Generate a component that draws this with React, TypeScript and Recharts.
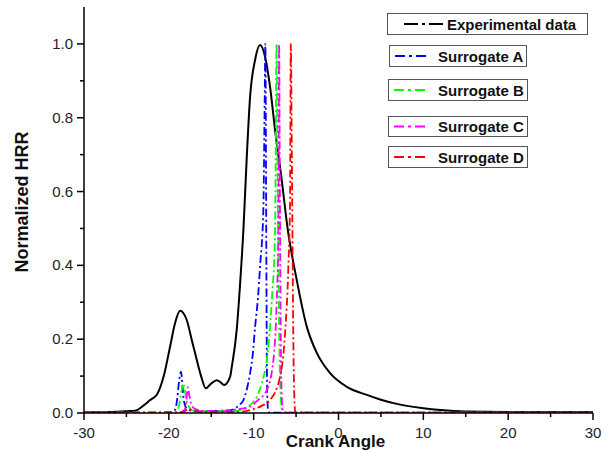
import React from 'react';
import { LineChart, Line, XAxis, YAxis } from 'recharts';

// ---- data ----
const expX = [-30, -27, -25, -24, -23, -22.2, -21.4, -20.6, -19.86, -19.27, -18.68, -17.89, -17.3, -16.71, -16.2, -15.65, -15.0, -14.35, -13.9, -13.49, -12.78, -12.58, -12.0, -11.6, -11.21, -10.8, -10.42, -9.83, -9.25, -8.66, -8.07, -7.48, -6.69, -6.03, -4.92, -3.74, -2.56, -0.99, 0.98, 3.34, 5, 7, 10, 12, 15, 20, 25, 30];
const expY = [0.002, 0.003, 0.005, 0.006, 0.02, 0.035, 0.05, 0.1, 0.179, 0.243, 0.277, 0.252, 0.198, 0.144, 0.1, 0.067, 0.08, 0.089, 0.083, 0.076, 0.098, 0.125, 0.225, 0.35, 0.496, 0.7, 0.857, 0.957, 0.997, 0.966, 0.884, 0.767, 0.631, 0.505, 0.36, 0.234, 0.163, 0.108, 0.071, 0.049, 0.036, 0.024, 0.013, 0.008, 0.004, 0.003, 0.003, 0.003];

const aX = [-30, -22, -20, -19.6, -19.27, -19.0, -18.8, -18.56, -18.4, -18.2, -17.9, -17.5, -17, -16, -15, -14, -13, -12.39, -11.8, -11.21, -10.8, -10.42, -10.1, -9.83, -9.5, -9.25, -8.86, -8.7, -8.62, -8.56, -8.5, -8.44, -8.35, -8.25, -8, -5, 0, 10, 20, 30];
const aY = [0.001, 0.001, 0.002, 0.003, 0.008, 0.04, 0.085, 0.112, 0.075, 0.03, 0.012, 0.007, 0.005, 0.004, 0.005, 0.006, 0.007, 0.01, 0.02, 0.035, 0.065, 0.108, 0.16, 0.234, 0.31, 0.396, 0.55, 0.85, 1.0, 0.75, 0.4, 0.12, 0.02, 0.003, 0.001, 0.001, 0.001, 0.001, 0.001, 0.001];

const bX = [-30, -20, -19.2, -18.8, -18.5, -18.29, -18.1, -17.8, -17.4, -17, -16, -14, -12, -11.6, -10.5, -9.63, -9.0, -8.45, -7.86, -7.48, -7.3, -7.2, -7.08, -6.95, -6.8, -6.6, -6.4, 0, 10, 20, 30];
const bY = [0.001, 0.001, 0.003, 0.02, 0.06, 0.08, 0.06, 0.025, 0.01, 0.006, 0.004, 0.005, 0.006, 0.008, 0.02, 0.044, 0.085, 0.144, 0.306, 0.487, 1.0, 0.7, 0.4, 0.15, 0.04, 0.005, 0.001, 0.001, 0.001, 0.001, 0.001];

const cX = [-30, -19, -18.5, -18.1, -17.9, -17.75, -17.6, -17.3, -16.8, -16, -14, -12, -10.42, -9.5, -8.45, -7.67, -7.28, -7.09, -7.0, -6.93, -6.86, -6.78, -6.68, -6.55, -6.4, 0, 10, 20, 30];
const cY = [0.001, 0.001, 0.003, 0.01, 0.04, 0.07, 0.05, 0.02, 0.01, 0.006, 0.005, 0.01, 0.017, 0.035, 0.062, 0.144, 0.306, 0.487, 1.0, 0.7, 0.4, 0.15, 0.04, 0.005, 0.001, 0.001, 0.001, 0.001, 0.001];

const dX = [-30, -19, -18.2, -17.7, -17.2, -16, -12, -10.42, -9.0, -8.07, -6.89, -6.3, -5.91, -5.71, -5.62, -5.5, -5.4, -5.3, -5.2, -5.1, -4.9, 0, 10, 20, 30];
const dY = [0.001, 0.001, 0.003, 0.012, 0.006, 0.003, 0.003, 0.008, 0.02, 0.035, 0.098, 0.216, 0.396, 0.577, 1.0, 0.7, 0.4, 0.15, 0.04, 0.004, 0.001, 0.001, 0.001, 0.001, 0.001];

const xTicks = [-30, -25, -20, -15, -10, -5, 0, 5, 10, 15, 20, 25, 30];
const yTicks = [0, 0.1, 0.2, 0.3, 0.4, 0.5, 0.6, 0.7, 0.8, 0.9, 1.0];

const seriesNames = ['Experimental data', 'Surrogate A', 'Surrogate B', 'Surrogate C', 'Surrogate D'];
const seriesColors = ['#000000', '#0000ff', '#00ff00', '#ff00ff', '#ff0000'];

const zip = (xs: number[], ys: number[]) => xs.map((x, i) => ({ x, y: ys[i] }));
const seriesData = [zip(expX, expY), zip(aX, aY), zip(bX, bY), zip(cX, cY), zip(dX, dY)];

const FONT = '"Liberation Sans", Arial, sans-serif';

const XTick = (props: any) => {
  const { x, y, payload } = props;
  const v = payload.value;
  const major = v % 10 === 0;
  return (
    <g>
      <line x1={x} x2={x} y1={y} y2={y + (major ? 7 : 4)} stroke="#000" strokeWidth={1.5} />
      {major && (
        <text x={x} y={y + 25} textAnchor="middle" fontSize={15} fontFamily={FONT} fill="#222">
          {String(v)}
        </text>
      )}
    </g>
  );
};

const YTick = (props: any) => {
  const { x, y, payload } = props;
  const v = payload.value;
  const major = Math.round(v * 10) % 2 === 0;
  return (
    <g>
      <line x1={x} x2={x - (major ? 7 : 4)} y1={y} y2={y} stroke="#000" strokeWidth={1.5} />
      {major && (
        <text x={x - 11} y={y + 5} textAnchor="end" fontSize={15} fontFamily={FONT} fill="#222">
          {v.toFixed(1)}
        </text>
      )}
    </g>
  );
};

const YLabel = (props: any) => {
  const { viewBox } = props;
  const cx = viewBox.x + 22;
  const cy = viewBox.y + viewBox.height / 2 - 8;
  return (
    <text
      x={cx}
      y={cy}
      transform={`rotate(-90 ${cx} ${cy})`}
      textAnchor="middle"
      dominantBaseline="central"
      fontSize={18}
      fontWeight="bold"
      fontFamily={FONT}
      fill="#111"
    >
      Normalized HRR
    </text>
  );
};

const XLabel = (props: any) => {
  const { viewBox } = props;
  const cx = viewBox.x + viewBox.width / 2 - 3;
  return (
    <text x={cx} y={viewBox.y + 34} textAnchor="middle" fontSize={17} fontWeight="bold" fontFamily={FONT} fill="#111">
      Crank Angle
    </text>
  );
};

const legendBoxes = [
  { left: 387, top: 13, width: 201, height: 22, lx1: 16, lx2: 56, tx: 59, dash: '14 4 3 4' },
  { left: 389, top: 45, width: 138, height: 22, lx1: 5, lx2: 39, tx: 48, dash: '10 4 3 4' },
  { left: 388, top: 79, width: 140, height: 22, lx1: 5, lx2: 39, tx: 49, dash: '10 4 3 4' },
  { left: 388, top: 116, width: 140, height: 21, lx1: 5, lx2: 39, tx: 49, dash: '10 4 3 4' },
  { left: 388, top: 146, width: 140, height: 22, lx1: 5, lx2: 39, tx: 49, dash: '10 4 3 4' },
];

export default function App() {
  return (
    <div style={{ position: 'absolute', left: 0, top: 0, width: 605, height: 451, background: '#fff' }}>
      <LineChart width={605} height={451} margin={{ top: 7, right: 12, bottom: 0, left: 0 }}>
        <XAxis
          dataKey="x"
          type="number"
          domain={[-30, 30]}
          ticks={xTicks}
          interval={0}
          height={38}
          tickSize={0}
          tickMargin={0}
          tickLine={false}
          tick={<XTick />}
          axisLine={{ stroke: '#000', strokeWidth: 1.5 }}
          allowDataOverflow
          label={<XLabel />}
        />
        <XAxis
          xAxisId="top"
          orientation="top"
          type="number"
          domain={[-30, 30]}
          height={0}
          tick={false}
          tickLine={false}
          axisLine={{ stroke: '#000', strokeWidth: 1.5 }}
        />
        <YAxis
          type="number"
          domain={[0, 1.1]}
          ticks={yTicks}
          interval={0}
          width={84}
          tickSize={0}
          tickMargin={0}
          tickLine={false}
          tick={<YTick />}
          axisLine={{ stroke: '#000', strokeWidth: 1.5 }}
          allowDataOverflow
          label={<YLabel />}
        />
        <YAxis
          yAxisId="right"
          orientation="right"
          type="number"
          domain={[0, 1.1]}
          width={0}
          tick={false}
          tickLine={false}
          axisLine={{ stroke: '#000', strokeWidth: 1.5 }}
        />
        {seriesData.map((d, i) => (
          <Line
            key={seriesNames[i]}
            data={d}
            dataKey="y"
            name={seriesNames[i]}
            type="monotone"
            stroke={seriesColors[i]}
            strokeWidth={i === 0 ? 2 : 1.8}
            strokeDasharray={i === 0 ? undefined : '8 3 2 3'}
            dot={false}
            activeDot={false}
            isAnimationActive={false}
          />
        ))}
      </LineChart>
      {legendBoxes.map((b, i) => (
        <div
          key={seriesNames[i]}
          style={{
            position: 'absolute',
            left: b.left,
            top: b.top,
            width: b.width,
            height: b.height,
            border: '1px solid #555',
            boxSizing: 'border-box',
            background: '#fff',
          }}
        >
          <svg width={b.width - 2} height={b.height - 2} style={{ position: 'absolute', left: 0, top: 0 }}>
            <line
              x1={b.lx1}
              x2={b.lx2}
              y1={(b.height - 2) / 2}
              y2={(b.height - 2) / 2}
              stroke={seriesColors[i]}
              strokeWidth={2}
              strokeDasharray={b.dash}
            />
            <text
              x={b.tx}
              y={(b.height - 2) / 2 + 5.5}
              fontSize={15}
              fontWeight="bold"
              fontFamily={FONT}
              fill="#111"
            >
              {seriesNames[i]}
            </text>
          </svg>
        </div>
      ))}
    </div>
  );
}
